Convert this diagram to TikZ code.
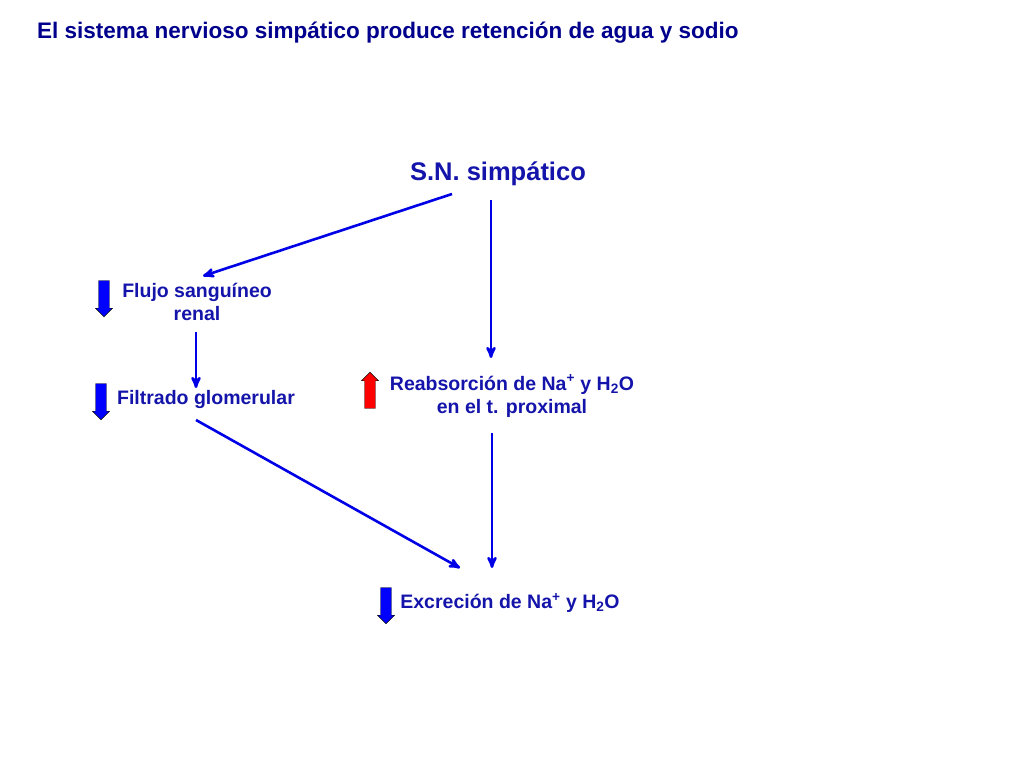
\documentclass[tikz,border=0pt]{standalone}
\usepackage{fontspec}
\setmainfont{Liberation Sans}
\usetikzlibrary{arrows, shapes.arrows}
\definecolor{titleblue}{RGB}{0,0,140}
\definecolor{textblue}{RGB}{20,20,170}
\definecolor{linkblue}{RGB}{0,0,230}
\begin{document}
\begin{tikzpicture}[x=1pt,y=-1pt,>=stealth',
  label/.style={text=textblue,font=\bfseries\fontsize{19.5}{23}\selectfont,align=center,inner sep=0pt},
  link/.style={->,linkblue,line width=2.6pt},
  downarrow/.style={single arrow,draw=black,fill=blue,shape border rotate=270,
    minimum height=36pt,minimum width=17pt,single arrow head extend=1.5pt,inner sep=2.5pt},
  uparrow/.style={downarrow,fill=red,shape border rotate=90}]
\useasboundingbox (0,0) rectangle (1024,768);
\node[anchor=west,text=titleblue,font=\bfseries\fontsize{22.5}{26}\selectfont,inner sep=0pt] (title) at (37,33) {El sistema nervioso simpático produce retención de agua y sodio};

\node[label,font=\bfseries\fontsize{25.5}{30}\selectfont] (sn) at (498,174) {S.N. simpático};
\node[label] (flujo) at (197,302) {Flujo sanguíneo\\renal};
\node[label] (filtrado) at (206,399) {Filtrado glomerular};
\node[label] (reab) at (512,396) {Reabsorción de Na\textsuperscript{+} y H\textsubscript{2}O\\en el t. proximal};
\node[label] (excr) at (510,603) {Excreción de Na\textsuperscript{+} y H\textsubscript{2}O};

\node[downarrow] (dflujo) at (104,296) {};
\node[downarrow] (dfiltrado) at (101,399) {};
\node[uparrow] (ureab) at (370,393) {};
\node[downarrow] (dexcr) at (386,603) {};

\coordinate (a1) at (452,194); \coordinate (a2) at (203,276);
\coordinate (b1) at (491,200); \coordinate (b2) at (491,358);
\coordinate (c1) at (196,332); \coordinate (c2) at (196,388);
\coordinate (d1) at (196,420); \coordinate (d2) at (460,568);
\coordinate (e1) at (492,433); \coordinate (e2) at (492,568);
\draw[link] (a1) -- (a2);
\draw[link] (b1) -- (b2);
\draw[link] (c1) -- (c2);
\draw[link] (d1) -- (d2);
\draw[link] (e1) -- (e2);
\end{tikzpicture}
\end{document}
